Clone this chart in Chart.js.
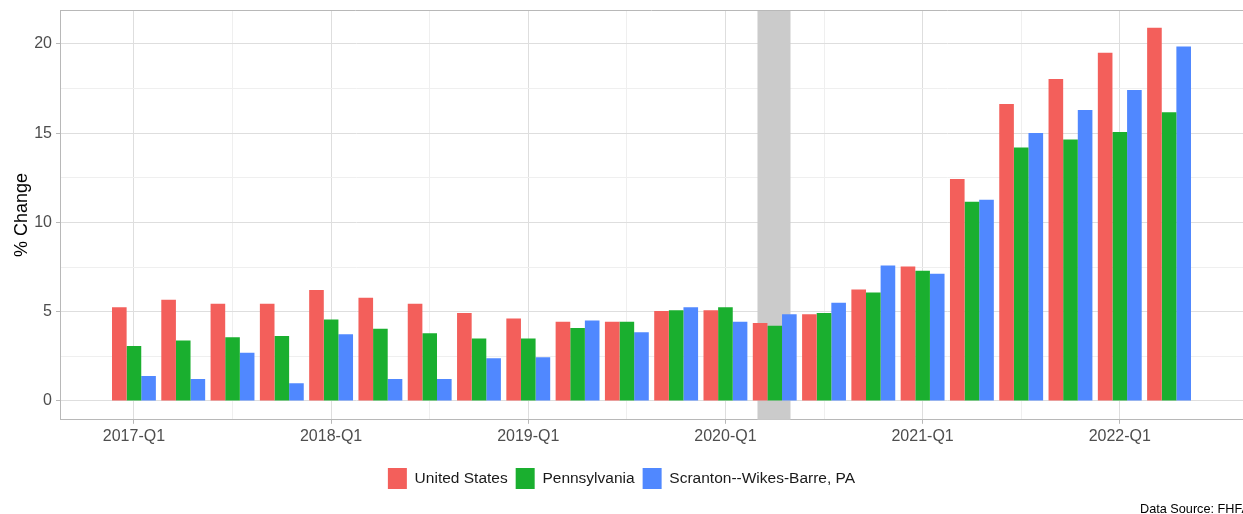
<!DOCTYPE html>
<html>
<head>
<meta charset="utf-8">
<script src="https://cdn.jsdelivr.net/npm/chart.js@4"></script>
<style>
  html, body { margin: 0; padding: 0; background: #fff; }
  #wrap { width: 1243px; height: 514px; }
</style>
</head>
<body>
<div id="wrap"><canvas id="hpiChart"></canvas></div>
<script>
const quarters = [
  "2017-Q1", "2017-Q2", "2017-Q3", "2017-Q4",
  "2018-Q1", "2018-Q2", "2018-Q3", "2018-Q4",
  "2019-Q1", "2019-Q2", "2019-Q3", "2019-Q4",
  "2020-Q1", "2020-Q2", "2020-Q3", "2020-Q4",
  "2021-Q1", "2021-Q2", "2021-Q3", "2021-Q4",
  "2022-Q1", "2022-Q2",
];
const unitedStates = [5.25, 5.66, 5.44, 5.44, 6.21, 5.78, 5.44, 4.92, 4.62, 4.43, 4.43, 5.03, 5.08, 4.37, 4.86, 6.24, 7.53, 12.43, 16.64, 18.04, 19.51, 20.90];
const pennsylvania = [3.08, 3.38, 3.57, 3.63, 4.56, 4.04, 3.79, 3.50, 3.50, 4.09, 4.43, 5.08, 5.25, 4.21, 4.92, 6.07, 7.29, 11.16, 14.19, 14.65, 15.07, 16.17];
const scranton = [1.40, 1.23, 2.69, 0.99, 3.74, 1.23, 1.23, 2.39, 2.45, 4.50, 3.85, 5.25, 4.43, 4.86, 5.50, 7.59, 7.12, 11.27, 15.01, 16.30, 17.42, 19.85];
const yTicks = [0, 2.5, 5, 7.5, 10, 12.5, 15, 17.5, 20];
// recession shading, in quarter-index units
const recessionStart = 12.65;
const recessionEnd = 13.32;

// one empty slot on each side so the axis has room like the original
const labels = [""].concat(quarters, [""]);
const pad = (arr) => [null].concat(arr, [null]);

const gridMajor = "#DEDEDE";
const gridMinor = "#EFEFEF";
const borderGrey = "#B8B8B8";
const fontFamily = "'Liberation Sans', Arial, Helvetica, sans-serif";

const recessionBand = {
  id: "recessionBand",
  beforeDatasetsDraw(chart) {
    const { ctx, chartArea, scales } = chart;
    const x0 = scales.x.getPixelForValue(recessionStart + 1);
    const x1 = scales.x.getPixelForValue(recessionEnd + 1);
    ctx.save();
    ctx.fillStyle = "#CBCBCB";
    ctx.fillRect(x0, chartArea.top, x1 - x0, chartArea.bottom - chartArea.top);
    ctx.restore();
  },
  afterDraw(chart) {
    const { ctx, chartArea } = chart;
    ctx.save();
    ctx.strokeStyle = borderGrey;
    ctx.lineWidth = 1;
    ctx.beginPath();
    ctx.moveTo(chartArea.left, chartArea.top + 0.5);
    ctx.lineTo(chartArea.right, chartArea.top + 0.5);
    ctx.stroke();
    ctx.fillStyle = "#000";
    ctx.font = "12.7px " + fontFamily;
    ctx.textBaseline = "middle";
    ctx.fillText("Data Source: FHFA", 1140, 509);
    ctx.restore();
  },
};

const ctx = document.getElementById("hpiChart").getContext("2d");
const hpiChart = new Chart(ctx, {
  type: "bar",
  data: {
    labels: labels,
    datasets: [
      { label: "United States", data: pad(unitedStates), backgroundColor: "#F35F5B", borderWidth: 0 },
      { label: "Pennsylvania", data: pad(pennsylvania), backgroundColor: "#1AAF2F", borderWidth: 0 },
      { label: "Scranton--Wikes-Barre, PA", data: pad(scranton), backgroundColor: "#5088FF", borderWidth: 0 },
    ],
  },
  options: {
    responsive: true,
    maintainAspectRatio: false,
    animation: false,
    datasets: { bar: { barPercentage: 1.0, categoryPercentage: 0.89 } },
    layout: { padding: { left: 0, right: 0, top: 10, bottom: 15 } },
    plugins: {
      tooltip: { enabled: false },
      legend: {
        position: "bottom",
        labels: {
          boxWidth: 19,
          boxHeight: 21,
          padding: 8,
          color: "#1A1A1A",
          font: { family: fontFamily, size: 15.5 },
        },
      },
    },
    scales: {
      x: {
        afterFit: (s) => { s.height += 11; },
        grid: {
          offset: false,
          color: (c) => {
            const l = labels[c.index] || "";
            if (l.endsWith("Q1")) return gridMajor;
            if (l.endsWith("Q3")) return gridMinor;
            return "rgba(0,0,0,0)";
          },
          tickColor: (c) => ((labels[c.index] || "").endsWith("Q1") ? borderGrey : "rgba(0,0,0,0)"),
          tickLength: 4,
        },
        border: { display: true, color: borderGrey, width: 1 },
        ticks: {
          autoSkip: false,
          maxRotation: 0,
          padding: 3,
          color: "#4D4D4D",
          font: { family: fontFamily, size: 16 },
          callback: function (value) {
            const l = this.getLabelForValue(value);
            return l.endsWith("Q1") ? l : "";
          },
        },
      },
      y: {
        min: -1.06,
        max: 21.9,
        afterBuildTicks: (s) => { s.ticks = yTicks.map((v) => ({ value: v })); },
        afterFit: (s) => { s.width = 60; s.paddingTop = 0; s.paddingBottom = 0; },
        grid: {
          color: (c) => (c.tick && c.tick.value % 5 === 0 ? gridMajor : gridMinor),
          tickColor: (c) => (c.tick && c.tick.value % 5 === 0 ? borderGrey : "rgba(0,0,0,0)"),
          tickLength: 4,
        },
        border: { display: true, color: borderGrey, width: 1 },
        ticks: {
          padding: 4,
          color: "#4D4D4D",
          font: { family: fontFamily, size: 16 },
          callback: (v) => (v % 5 === 0 ? String(v) : ""),
        },
        title: {
          display: true,
          text: "% Change",
          color: "#000",
          font: { family: fontFamily, size: 18 },
          padding: { top: 11, bottom: 0 },
        },
      },
    },
  },
  plugins: [recessionBand],
});
</script>
</body>
</html>
